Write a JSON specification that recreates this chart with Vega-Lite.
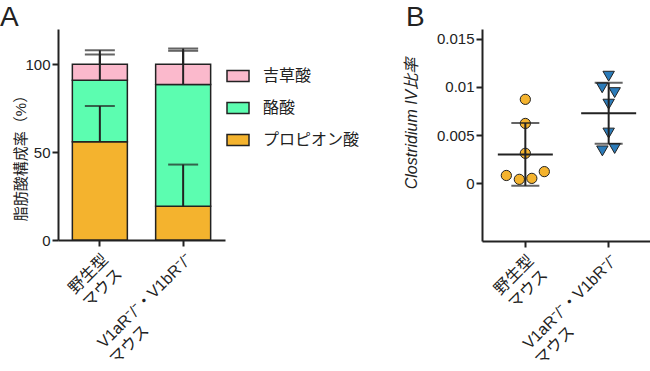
{
  "$schema": "https://vega.github.io/schema/vega-lite/v6.json",
  "padding": {"left": 0, "top": 4, "right": 0, "bottom": 0},
  "background": "white",
  "config": {
    "font": "Liberation Sans, Noto Sans CJK JP",
    "view": {"stroke": null},
    "axis": {
      "domainColor": "#222", "domainWidth": 2, "tickColor": "#222", "tickWidth": 2, "tickSize": 6,
      "labelColor": "#222", "labelFontSize": 15, "titleFontSize": 15, "titleFontWeight": "normal",
      "titleColor": "#222", "grid": false, "labelPadding": 2,
      "labelFont": "Liberation Sans, Noto Sans CJK JP", "titleFont": "Liberation Sans, Noto Sans CJK JP"
    },
    "title": {"fontSize": 28, "fontWeight": "normal", "anchor": "start", "frame": "group", "color": "#222", "font": "Liberation Sans"}
  },
  "spacing": 177,
  "hconcat": [
    {
      "width": 167, "height": 211,
      "title": {"text": "A", "dx": -58, "offset": -3},
      "layer": [
        {
          "data": {"values": [
            {"group": "野生型|マウス", "acid": "プロピオン酸", "pct": 55.9, "rank": 1},
            {"group": "野生型|マウス", "acid": "酪酸", "pct": 34.9, "rank": 2},
            {"group": "野生型|マウス", "acid": "吉草酸", "pct": 9.2, "rank": 3},
            {"group": "V1aR⁻/⁻・V1bR⁻/⁻|マウス\u00a0\u00a0\u00a0\u00a0\u00a0\u00a0\u00a0\u00a0\u00a0\u00a0\u00a0\u00a0\u00a0\u00a0\u00a0\u00a0\u00a0\u00a0\u200b", "acid": "プロピオン酸", "pct": 19.2, "rank": 1},
            {"group": "V1aR⁻/⁻・V1bR⁻/⁻|マウス\u00a0\u00a0\u00a0\u00a0\u00a0\u00a0\u00a0\u00a0\u00a0\u00a0\u00a0\u00a0\u00a0\u00a0\u00a0\u00a0\u00a0\u00a0\u200b", "acid": "酪酸", "pct": 69.3, "rank": 2},
            {"group": "V1aR⁻/⁻・V1bR⁻/⁻|マウス\u00a0\u00a0\u00a0\u00a0\u00a0\u00a0\u00a0\u00a0\u00a0\u00a0\u00a0\u00a0\u00a0\u00a0\u00a0\u00a0\u00a0\u00a0\u200b", "acid": "吉草酸", "pct": 11.5, "rank": 3}
          ]},
          "mark": {"type": "bar", "stroke": "#222", "strokeWidth": 1.5, "width": 55},
          "encoding": {
            "x": {"field": "group", "type": "nominal", "sort": null,
              "scale": {"type": "band", "paddingInner": 0.337, "paddingOuter": 0.171},
              "axis": {"title": null, "labelAngle": -45, "labelAlign": "right", "labelBaseline": "top", "labelExpr": "split(datum.label, '|')", "labelLineHeight": 20, "labelPadding": 5, "labelFontSize": 16}},
            "y": {"field": "pct", "type": "quantitative", "stack": "zero", "title": "脂肪酸構成率（%）",
              "scale": {"domain": [0, 120]}, "axis": {"values": [0, 50, 100], "titleX": -30, "titleY": 125}},
            "color": {"field": "acid", "type": "nominal",
              "scale": {"domain": ["吉草酸", "酪酸", "プロピオン酸"], "range": ["#FBB9CC", "#5CFDB0", "#F4B32E"]},
              "legend": {"orient": "none", "legendX": 168, "legendY": 35, "title": null,
                "symbolType": "M-1,-0.5H1V0.5H-1Z", "symbolSize": 484, "symbolStrokeColor": "#222", "symbolStrokeWidth": 1.5,
                "labelFontSize": 16, "labelFont": "Noto Sans CJK JP", "labelColor": "#222", "rowPadding": 11, "labelOffset": 13, "symbolOpacity": 1}},
            "order": {"field": "rank", "type": "quantitative"}
          }
        },
        {
          "data": {"values": [
            {"group": "野生型|マウス", "lo": 55.9, "hi": 76.2},
            {"group": "野生型|マウス", "lo": 90.8, "hi": 105.5},
            {"group": "野生型|マウス", "lo": 100, "hi": 107.9},
            {"group": "V1aR⁻/⁻・V1bR⁻/⁻|マウス\u00a0\u00a0\u00a0\u00a0\u00a0\u00a0\u00a0\u00a0\u00a0\u00a0\u00a0\u00a0\u00a0\u00a0\u00a0\u00a0\u00a0\u00a0\u200b", "lo": 19.2, "hi": 42.9},
            {"group": "V1aR⁻/⁻・V1bR⁻/⁻|マウス\u00a0\u00a0\u00a0\u00a0\u00a0\u00a0\u00a0\u00a0\u00a0\u00a0\u00a0\u00a0\u00a0\u00a0\u00a0\u00a0\u00a0\u00a0\u200b", "lo": 88.5, "hi": 107.6},
            {"group": "V1aR⁻/⁻・V1bR⁻/⁻|マウス\u00a0\u00a0\u00a0\u00a0\u00a0\u00a0\u00a0\u00a0\u00a0\u00a0\u00a0\u00a0\u00a0\u00a0\u00a0\u00a0\u00a0\u00a0\u200b", "lo": 100, "hi": 108.9}
          ]},
          "layer": [
            {
              "mark": {"type": "rule", "color": "#222", "strokeWidth": 2},
              "encoding": {
                "x": {"field": "group", "type": "nominal", "sort": null, "scale": {"type": "band"}},
                "y": {"field": "lo", "type": "quantitative", "title": "脂肪酸構成率（%）"},
                "y2": {"field": "hi"}
              }
            },
            {
              "mark": {"type": "tick", "color": "#222", "thickness": 2, "size": 30, "orient": "horizontal"},
              "encoding": {
                "x": {"field": "group", "type": "nominal", "sort": null, "scale": {"type": "band"}},
                "y": {"field": "hi", "type": "quantitative", "title": "脂肪酸構成率（%）"}
              }
            }
          ]
        }
      ]
    },
    {
      "width": 170, "height": 212,
      "title": {"text": "B", "dx": -76, "offset": -3},
      "data": {"values": [
        {"group": "野生型|マウス", "value": 0.0087, "jit": 0},
        {"group": "野生型|マウス", "value": 0.0062, "jit": 0},
        {"group": "野生型|マウス", "value": 0.0031, "jit": 0},
        {"group": "野生型|マウス", "value": 0.0008, "jit": -19},
        {"group": "野生型|マウス", "value": 0.0004, "jit": -6},
        {"group": "野生型|マウス", "value": 0.0005, "jit": 6.5},
        {"group": "野生型|マウス", "value": 0.0012, "jit": 19},
        {"group": "V1aR⁻/⁻・V1bR⁻/⁻|マウス\u00a0\u00a0\u00a0\u00a0\u00a0\u00a0\u00a0\u00a0\u00a0\u00a0\u00a0\u00a0\u00a0\u00a0\u00a0\u00a0\u00a0\u00a0\u200b", "value": 0.0111, "jit": 0},
        {"group": "V1aR⁻/⁻・V1bR⁻/⁻|マウス\u00a0\u00a0\u00a0\u00a0\u00a0\u00a0\u00a0\u00a0\u00a0\u00a0\u00a0\u00a0\u00a0\u00a0\u00a0\u00a0\u00a0\u00a0\u200b", "value": 0.0099, "jit": -6.5},
        {"group": "V1aR⁻/⁻・V1bR⁻/⁻|マウス\u00a0\u00a0\u00a0\u00a0\u00a0\u00a0\u00a0\u00a0\u00a0\u00a0\u00a0\u00a0\u00a0\u00a0\u00a0\u00a0\u00a0\u00a0\u200b", "value": 0.0094, "jit": 6},
        {"group": "V1aR⁻/⁻・V1bR⁻/⁻|マウス\u00a0\u00a0\u00a0\u00a0\u00a0\u00a0\u00a0\u00a0\u00a0\u00a0\u00a0\u00a0\u00a0\u00a0\u00a0\u00a0\u00a0\u00a0\u200b", "value": 0.0082, "jit": 0},
        {"group": "V1aR⁻/⁻・V1bR⁻/⁻|マウス\u00a0\u00a0\u00a0\u00a0\u00a0\u00a0\u00a0\u00a0\u00a0\u00a0\u00a0\u00a0\u00a0\u00a0\u00a0\u00a0\u00a0\u00a0\u200b", "value": 0.0052, "jit": 0},
        {"group": "V1aR⁻/⁻・V1bR⁻/⁻|マウス\u00a0\u00a0\u00a0\u00a0\u00a0\u00a0\u00a0\u00a0\u00a0\u00a0\u00a0\u00a0\u00a0\u00a0\u00a0\u00a0\u00a0\u00a0\u200b", "value": 0.00335, "jit": -6.3},
        {"group": "V1aR⁻/⁻・V1bR⁻/⁻|マウス\u00a0\u00a0\u00a0\u00a0\u00a0\u00a0\u00a0\u00a0\u00a0\u00a0\u00a0\u00a0\u00a0\u00a0\u00a0\u00a0\u00a0\u00a0\u200b", "value": 0.0036, "jit": 6}
      ]},
      "layer": [
        {
          "mark": {"type": "point", "filled": true, "stroke": "#222", "strokeWidth": 1, "opacity": 1, "fillOpacity": 1},
          "encoding": {
            "x": {"field": "group", "type": "nominal", "sort": null,
              "scale": {"paddingInner": 0, "paddingOuter": 0.02},
              "axis": {"title": null, "labelAngle": -45, "labelAlign": "right", "labelBaseline": "top", "labelExpr": "split(datum.label, '|')", "labelLineHeight": 20, "labelPadding": 5, "labelFontSize": 16}},
            "xOffset": {"field": "jit", "type": "quantitative", "scale": {"domain": [-41.7, 41.7]}},
            "y": {"field": "value", "type": "quantitative", "title": "Clostridium IV比率",
              "scale": {"domain": [-0.005, 0.015]},
              "axis": {"values": [0, 0.005, 0.01, 0.015], "format": "~g", "titleFontStyle": "italic", "titleFontSize": 16, "titleX": -63, "titleY": 94}},
            "fill": {"field": "group", "type": "nominal", "sort": null, "legend": null,
              "scale": {"range": ["#F4B32E", "#2B7BB9"]}},
            "shape": {"field": "group", "type": "nominal", "sort": null, "legend": null,
              "scale": {"range": ["circle", "triangle-down"]}},
            "size": {"field": "group", "type": "nominal", "sort": null, "legend": null,
              "scale": {"range": [105, 130]}}
          }
        },
        {
          "mark": {"type": "errorbar", "extent": "stdev", "ticks": {"size": 28, "thickness": 2, "color": "#222"}, "rule": {"strokeWidth": 2, "color": "#222"}},
          "encoding": {
            "x": {"field": "group", "type": "nominal", "sort": null},
            "y": {"field": "value", "type": "quantitative", "title": "Clostridium IV比率"}
          }
        },
        {
          "mark": {"type": "tick", "size": 55, "thickness": 2, "color": "#222", "orient": "horizontal"},
          "encoding": {
            "x": {"field": "group", "type": "nominal", "sort": null},
            "y": {"aggregate": "mean", "field": "value", "type": "quantitative", "title": "Clostridium IV比率"}
          }
        }
      ]
    }
  ]
}
